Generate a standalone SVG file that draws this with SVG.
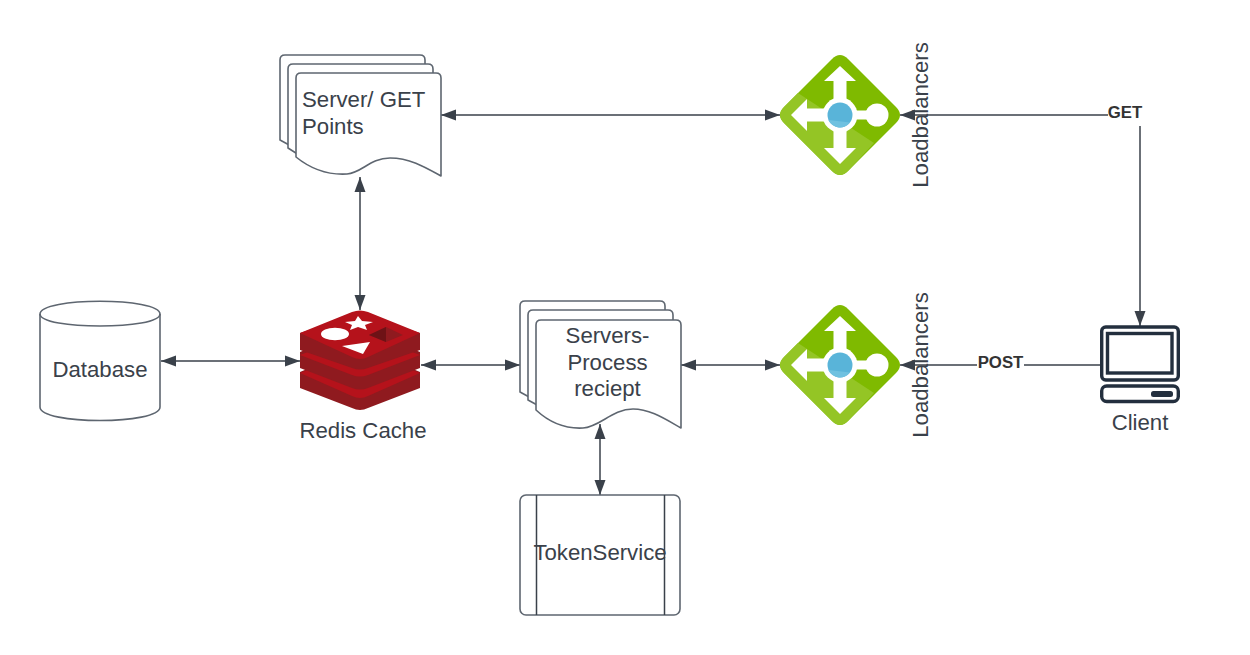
<svg xmlns="http://www.w3.org/2000/svg" width="1250" height="655" viewBox="0 0 1250 655">
<style>
text{font-family:"Liberation Sans",Arial,sans-serif;font-size:22.2px;fill:#3a414a;text-anchor:middle}
.s{fill:#fff;stroke:#5e6670;stroke-width:1.6;stroke-linejoin:round}
.c{fill:none;stroke:#3a414a;stroke-width:1.5}
.b{font-size:16.8px;font-weight:bold;fill:#333}
.w{fill:#fff}
.d{fill:#8f1a1f}
.r{fill:#b5121b}
.k{fill:none;stroke:#232f3e;stroke-width:3.4}
</style>
<defs>
<marker id="a" markerUnits="userSpaceOnUse" markerWidth="16" markerHeight="12" refX="15" refY="6" orient="auto-start-reverse"><path d="M0 0.5L15 6L0 11.500Z" fill="#3a414a"/></marker>
<g id="lb">
<path d="M-56 -8L-8 -56Q0 -64 8 -56L56 -8Q64 0 56 8L8 56Q0 64 -8 56L-56 8Q-64 0 -56 -8Z" fill="#7fba00"/>
<path d="M-42 -22L-56 -8Q-64 0 -56 8L-8 56Q0 64 8 56L34 28Z" fill="#94c525"/>
<path class="w" d="M0 -49L16 -34H6.500V-14H-6.500V-34H-16Z"/>
<path class="w" d="M0 49L16 33H6.500V14H-6.500V33H-16Z"/>
<path class="w" d="M-49 0L-33 -16V-6.500H-14V6.500H-33V16Z"/>
<rect class="w" x="12" y="-4.500" width="18" height="9"/>
<circle class="w" cx="37" cy="0" r="11.500"/>
<circle class="w" cx="0" cy="0" r="17.500"/>
<circle cx="0" cy="0" r="12.500" fill="#59b4d9"/>
<path d="M-11.500 5A12.500 12.500 0 0 0 10 7.500Z" fill="#6fc1e0"/>
</g>
</defs>

<g id="connectors">
<path class="c" marker-start="url(#a)" marker-end="url(#a)" d="M441 115H780"/>
<path class="c" marker-end="url(#a)" d="M1108 115H900"/>
<path class="c" marker-end="url(#a)" d="M1140 126V326"/>
<path class="c" marker-start="url(#a)" marker-end="url(#a)" d="M360 177V310"/>
<path class="c" marker-start="url(#a)" marker-end="url(#a)" d="M161 361H300"/>
<path class="c" marker-start="url(#a)" marker-end="url(#a)" d="M421 365H520"/>
<path class="c" marker-start="url(#a)" marker-end="url(#a)" d="M681 365H780"/>
<path class="c" marker-end="url(#a)" d="M1100 365H900"/>
<path class="c" marker-start="url(#a)" marker-end="url(#a)" d="M600 424V495"/>
</g>

<g id="server-get">
<path class="s" d="M280 140V60Q280 55 285 55H420Q425 55 425 60V66H291V146Z"/>
<path class="s" d="M288 148V69Q288 64 293 64H428Q433 64 433 69V75H299V155Z"/>
<path class="s" d="M296 157V78Q296 73 301 73H436Q441 73 441 78V176C425 167 410 158 390 158C370 158 362 173 347 174C330 175 312 170 296 157Z"/>
<text x="302" y="107" style="text-anchor:start">Server/ GET</text>
<text x="302" y="134" style="text-anchor:start">Points</text>
</g>

<g id="lb-get">
<use href="#lb" x="840" y="115"/>
<text transform="translate(927.500 115) rotate(-90)">Loadbalancers</text>
</g>

<g id="database">
<path class="s" d="M40 314C40 297 160 297 160 314V407C160 425 40 425 40 407Z"/>
<path class="s" style="fill:none" d="M40 314C40 330 160 330 160 314"/>
<text x="100" y="377">Database</text>
</g>

<g id="redis">
<path class="d" d="M300 372L352 350L368 350L420 372V388L368 408Q360 412 352 408L300 388Z"/>
<path class="r" d="M300 373L352 396Q360 400 368 396L420 373L368 352L352 352Z"/>
<path class="d" d="M300 352L352 330L368 330L420 352V368L368 388Q360 391 352 388L300 368Z"/>
<path class="r" d="M300 355L352 375Q360 378 368 375L420 355L368 335L352 335Z"/>
<path class="d" d="M300 333L352 316L368 316L420 333V350L368 368Q360 371 352 368L300 350Z"/>
<path class="r" d="M300 333L352 312Q360 309 368 312L420 333L368 357Q360 361 352 357Z"/>
<path class="w" d="M358 316L362 321L373 322L365 325L367 330L358 327L350 330L352 325L345 322L355 321Z"/>
<ellipse class="w" cx="335" cy="334" rx="14" ry="6.200"/>
<path class="w" d="M342 346L370 342L363 354Z"/>
<path class="d" d="M369 335L386 327L403 335L386 342Z"/>
<path d="M369 335L386 327V342Z" fill="#6e1216"/>
<text x="363" y="438">Redis Cache</text>
</g>

<g id="server-process">
<path class="s" d="M520 392V306Q520 301 525 301H660Q665 301 665 306V312H531V398Z"/>
<path class="s" d="M528 400V315Q528 310 533 310H668Q673 310 673 315V321H539V406Z"/>
<path class="s" d="M536 410V325Q536 320 541 320H676Q681 320 681 325V428C665 419 650 409 633 409C612 409 600 427 583 428C565 429 550 423 536 410Z"/>
<text x="607.500" y="343">Servers-</text>
<text x="607.500" y="370">Process</text>
<text x="607.500" y="396">reciept</text>
</g>

<g id="lb-post">
<use href="#lb" x="840" y="365"/>
<text transform="translate(927.500 365) rotate(-90)">Loadbalancers</text>
</g>

<g id="client">
<rect class="k" x="1101.700" y="327" width="76.600" height="53" rx="4"/>
<rect class="k" x="1107.500" y="333.500" width="64.500" height="39.500"/>
<rect class="k" x="1101.700" y="386" width="76.600" height="15.500" rx="5"/>
<rect x="1151" y="391" width="22" height="6" rx="2.500" fill="#232f3e"/>
<text x="1140" y="430">Client</text>
</g>

<g id="token-service">
<rect class="s" x="520" y="495" width="160" height="120" rx="6"/>
<path class="c" d="M536.500 495V615M664.500 495V615"/>
<text x="600" y="560">TokenService</text>
</g>

<g id="connector-labels">
<rect class="w" x="1108" y="104" width="34" height="20"/>
<text class="b" x="1125" y="118">GET</text>
<rect class="w" x="977" y="354" width="47" height="20"/>
<text class="b" x="1000.500" y="368">POST</text>
</g>
</svg>
